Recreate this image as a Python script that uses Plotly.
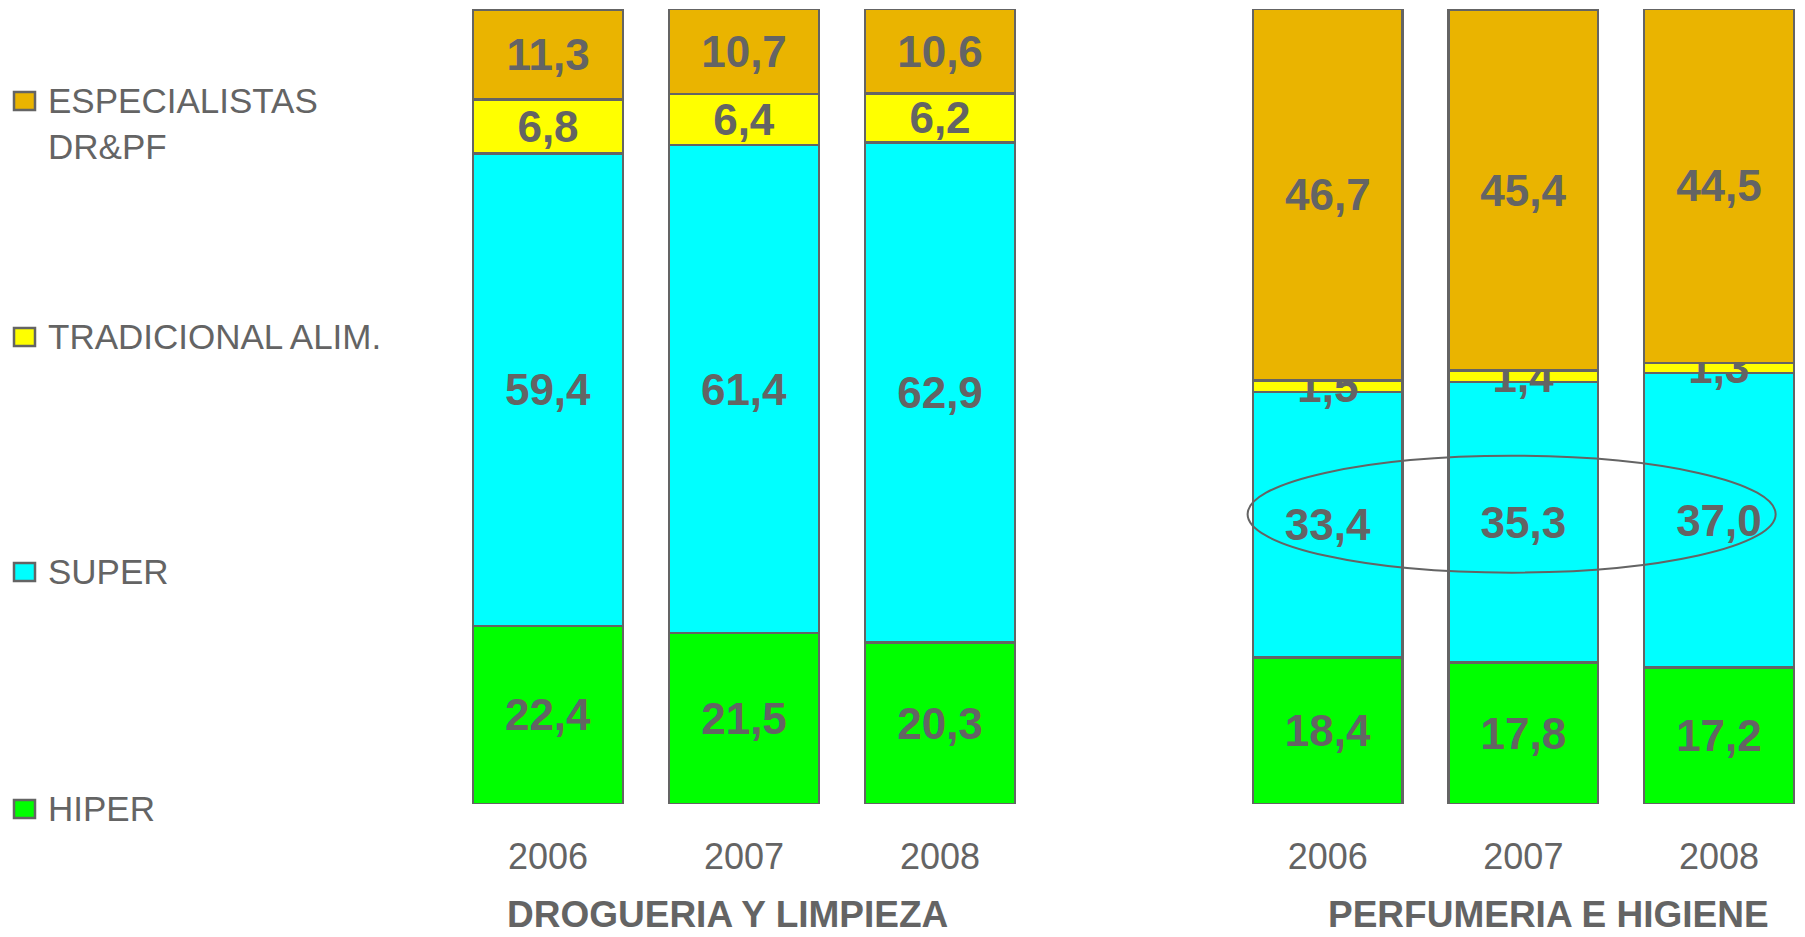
"""Stacked share bars by channel: Drogueria y Limpieza vs Perfumeria e Higiene."""

import plotly.graph_objects as go
from plotly.subplots import make_subplots

years = ["2006", "2007", "2008"]
channels = ["HIPER", "SUPER", "TRADICIONAL ALIM.", "ESPECIALISTAS DR&PF"]
legend_labels = ["HIPER", "SUPER", "TRADICIONAL ALIM.", "ESPECIALISTAS<br>DR&PF"]
colors = ["#00FF00", "#00FFFF", "#FFFF00", "#EAB400"]

# DROGUERIA Y LIMPIEZA
drog_hiper = [22.4, 21.5, 20.3]
drog_super = [59.4, 61.4, 62.9]
drog_trad = [6.8, 6.4, 6.2]
drog_espec = [11.3, 10.7, 10.6]

# PERFUMERIA E HIGIENE
perf_hiper = [18.4, 17.8, 17.2]
perf_super = [33.4, 35.3, 37.0]
perf_trad = [1.5, 1.4, 1.3]
perf_espec = [46.7, 45.4, 44.5]

panel_titles = ["DROGUERIA Y LIMPIEZA", "PERFUMERIA E HIGIENE"]

GRAY = "#646464"
FONT = "Arial, Liberation Sans, sans-serif"
W, H = 1805, 937

fig = make_subplots(rows=1, cols=2)

panels = [
    [drog_hiper, drog_super, drog_trad, drog_espec],
    [perf_hiper, perf_super, perf_trad, perf_espec],
]
for col, series in enumerate(panels, start=1):
    for name, vals, color in zip(channels, series, colors):
        fig.add_trace(
            go.Bar(
                x=years,
                y=vals,
                name=name,
                width=0.765,
                marker=dict(color=color, line=dict(color=GRAY, width=2.5)),
                texttemplate="%{y:.1f}",
                textposition="inside",
                insidetextanchor="middle",
                textangle=0,
                constraintext="none",
                insidetextfont=dict(family=FONT, size=44, color=GRAY, weight="bold"),
                showlegend=False,
                hoverinfo="skip",
            ),
            row=1,
            col=col,
        )

fig.update_layout(
    width=W,
    height=H,
    margin=dict(l=0, r=0, t=0, b=0),
    barmode="stack",
    separators=",.",
    plot_bgcolor="white",
    paper_bgcolor="white",
    font=dict(family=FONT, color=GRAY),
)

# axis geometry (pixels in the figure)
y_bot, y_top = 804, 9
fig.update_yaxes(
    range=[0, 100],
    domain=[(H - y_bot) / H, (H - y_top) / H],
    visible=False,
)
fig.update_xaxes(
    showline=False,
    showgrid=False,
    ticks="",
    ticklabelstandoff=28,
    tickfont=dict(family=FONT, size=36, color=GRAY),
)
fig.update_layout(
    xaxis=dict(domain=[450 / W, 1038 / W], range=[-0.5, 2.5]),
    xaxis2=dict(domain=[1230 / W, 1.0], range=[-0.5, 2.44]),
)

# panel titles
for title, xc in zip(panel_titles, [727, 1548]):
    fig.add_annotation(
        text=title,
        x=xc / W,
        y=0,
        xref="paper",
        yref="paper",
        showarrow=False,
        xanchor="center",
        yanchor="bottom",
        font=dict(family=FONT, size=37, color=GRAY, weight="bold"),
    )

# legend drawn on the left, top entry first
legend_rows = [101, 337, 572, 809]
for label, color, yc in zip(legend_labels[::-1], colors[::-1], legend_rows):
    fig.add_shape(
        type="rect",
        xref="paper",
        yref="paper",
        x0=14 / W,
        x1=35 / W,
        y0=(H - yc - 9) / H,
        y1=(H - yc + 9) / H,
        fillcolor=color,
        line=dict(color=GRAY, width=2.5),
    )
    fig.add_annotation(
        text=label,
        x=46 / W,
        y=(H - yc + 22) / H,
        xref="paper",
        yref="paper",
        showarrow=False,
        xanchor="left",
        yanchor="top",
        align="left",
        font=dict(family=FONT, size=35, color=GRAY),
    )

# ellipse highlighting the SUPER shares in perfumeria
fig.add_shape(
    type="circle",
    xref="x2",
    yref="y2",
    x0=-0.41,
    x1=2.29,
    y0=29.1,
    y1=43.8,
    line=dict(color=GRAY, width=2),
    layer="above",
)

# drop the default page margin so the figure sits at the window origin
fig.write_html(
    "out.html",
    config={"displayModeBar": False},
    post_script="document.body.style.margin = '0';",
)
